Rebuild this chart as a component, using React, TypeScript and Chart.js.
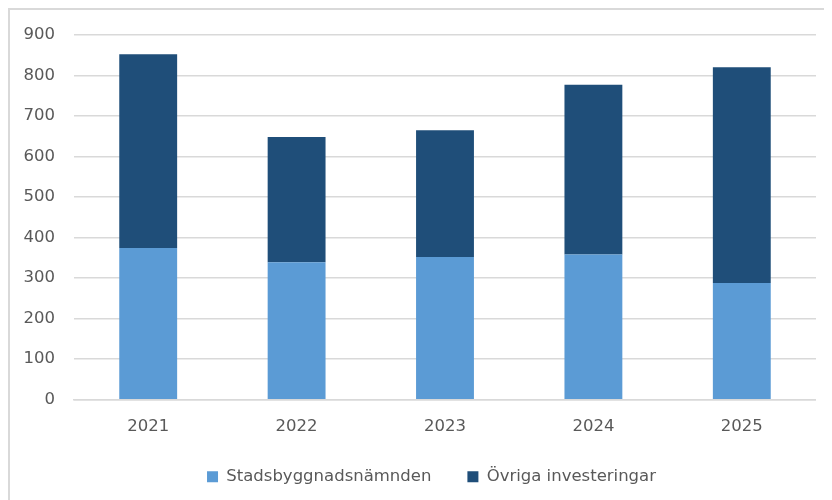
import React, { useEffect, useRef } from "react";
import { Chart, registerables } from "chart.js";

Chart.register(...registerables);

const years = ["2021", "2022", "2023", "2024", "2025"];
const stadsbyggnad = [374, 339, 352, 358, 288];
const ovriga = [478, 309, 313, 419, 532];
const yTicks = [0, 100, 200, 300, 400, 500, 600, 700, 800, 900];

const FONT = "'DejaVu Sans', sans-serif";

const shiftLegend = {
  id: "shiftLegend",
  afterLayout(chart: any) {
    const l = chart.legend;
    if (l && typeof l.left === "number") {
      l.left += 12;
      l.right += 12;
    }
  },
};

export default function App() {
  const canvasRef = useRef<HTMLCanvasElement | null>(null);

  useEffect(() => {
    const html = document.documentElement as any;
    html.style.overflow = "hidden";
    html.style.scrollbarWidth = "none";
    document.body.style.overflow = "hidden";
    const ctx = canvasRef.current;
    if (!ctx) return;
    const chart = new Chart(ctx, {
      type: "bar",
      data: {
        labels: years,
        datasets: [
          {
            label: "Stadsbyggnadsnämnden",
            data: stadsbyggnad,
            backgroundColor: "#5B9BD5",
            borderWidth: 0,
            categoryPercentage: 1,
            barPercentage: 0.39,
          },
          {
            label: "Övriga investeringar",
            data: ovriga,
            backgroundColor: "#1F4E79",
            borderWidth: 0,
            categoryPercentage: 1,
            barPercentage: 0.39,
          },
        ],
      },
      plugins: [shiftLegend],
      options: {
        animation: false,
        responsive: false,
        maintainAspectRatio: false,
        layout: { padding: { left: 13, right: 0, top: 4, bottom: 5 } },
        plugins: {
          tooltip: { enabled: false },
          legend: {
            position: "bottom",
            labels: {
              boxWidth: 11,
              boxHeight: 11,
              padding: 36,
              color: "#595959",
              font: { family: FONT, size: 16.5 },
            },
          },
        },
        scales: {
          x: {
            stacked: true,
            grid: { display: false, drawTicks: false },
            border: { display: true, color: "#D9D9D9", width: 1.5 },
            ticks: {
              color: "#595959",
              font: { family: FONT, size: 16.5 },
              padding: 17,
            },
            afterFit: (axis: any) => {
              axis.height = axis.height - 21;
            },
          },
          y: {
            stacked: true,
            min: 0,
            max: 900,
            afterBuildTicks: (axis: any) => {
              axis.ticks = yTicks.map((v) => ({ value: v }));
            },
            afterFit: (axis: any) => {
              axis.width = 51;
            },
            grid: { color: "#D9D9D9", lineWidth: 1.5, drawTicks: false },
            border: { display: false },
            ticks: {
              color: "#595959",
              font: { family: FONT, size: 16.5 },
              padding: 19,
            },
          },
        },
      },
    });
    return () => chart.destroy();
  }, []);

  return (
    <div
      style={{
        width: 824,
        height: 492,
        overflow: "hidden",
        borderTop: "2px solid #D9D9D9",
        borderLeft: "2px solid #D9D9D9",
        boxSizing: "border-box",
        background: "#fff",
      }}
    >
      <canvas
        ref={canvasRef}
        width={806}
        height={494}
        style={{ display: "block", marginTop: -4 }}
      />
    </div>
  );
}
